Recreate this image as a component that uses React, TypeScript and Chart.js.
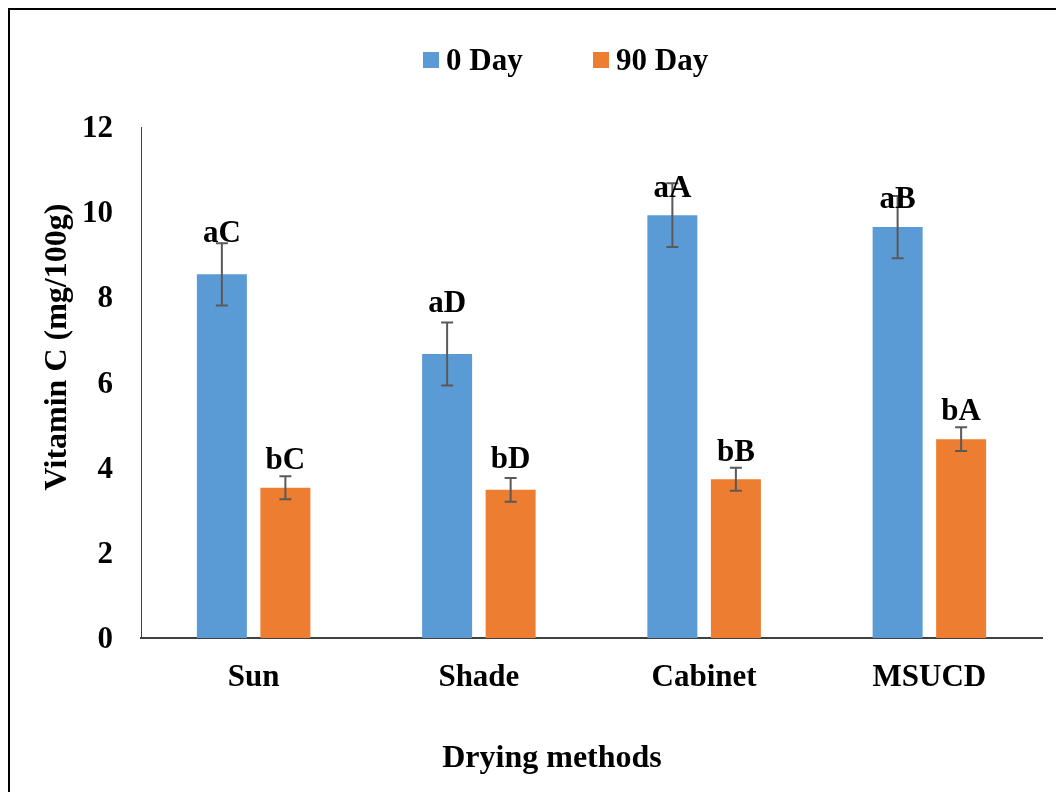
import React, { useEffect, useRef } from "react";
import { Chart, registerables } from "chart.js";

Chart.register(...registerables);

const categories = ["Sun", "Shade", "Cabinet", "MSUCD"];
const seriesNames = ["0 Day", "90 Day"];
const day0 = [8.54, 6.67, 9.93, 9.65];
const day90 = [3.53, 3.48, 3.73, 4.67];
const day0Err = [0.73, 0.74, 0.75, 0.73];
const day90Err = [0.27, 0.28, 0.27, 0.28];
const day0Letters = ["aC", "aD", "aA", "aB"];
const day90Letters = ["bC", "bD", "bB", "bA"];
const day0LabelAt = [9.31, 7.66, 10.36, 10.09];
const day90LabelAt = [3.97, 3.99, 4.16, 5.12];
const yTicks = [0, 2, 4, 6, 8, 10, 12];

const BLUE = "#5B9BD5";
const ORANGE = "#ED7D31";
const FONT = "'Liberation Serif', 'Times New Roman', serif";

const errs = [day0Err, day90Err];
const letters = [day0Letters, day90Letters];
const labelAt = [day0LabelAt, day90LabelAt];
const colors = [BLUE, ORANGE];

const extrasPlugin = {
  id: "extras",
  afterDatasetsDraw(chart: any) {
    const ctx = chart.ctx;
    const ys = chart.scales.y;
    ctx.save();
    for (let d = 0; d < 2; d++) {
      const meta = chart.getDatasetMeta(d);
      const vals = chart.data.datasets[d].data as number[];
      meta.data.forEach((bar: any, j: number) => {
        const x = bar.x;
        const top = ys.getPixelForValue(vals[j] + errs[d][j]);
        const bot = ys.getPixelForValue(vals[j] - errs[d][j]);
        ctx.strokeStyle = "#595959";
        ctx.lineWidth = 2;
        ctx.beginPath();
        ctx.moveTo(x, top);
        ctx.lineTo(x, bot);
        ctx.moveTo(x - 6, top);
        ctx.lineTo(x + 6, top);
        ctx.moveTo(x - 6, bot);
        ctx.lineTo(x + 6, bot);
        ctx.stroke();
      });
    }
    ctx.fillStyle = "#000";
    ctx.font = `bold 31px ${FONT}`;
    ctx.textAlign = "center";
    ctx.textBaseline = "alphabetic";
    for (let d = 0; d < 2; d++) {
      const meta = chart.getDatasetMeta(d);
      meta.data.forEach((bar: any, j: number) => {
        ctx.fillText(letters[d][j], bar.x, ys.getPixelForValue(labelAt[d][j]));
      });
    }
    ctx.restore();
  },
  afterDraw(chart: any) {
    const ctx = chart.ctx;
    ctx.save();
    ctx.fillStyle = "#000";
    // legend
    ctx.font = `bold 31px ${FONT}`;
    ctx.textAlign = "left";
    ctx.textBaseline = "alphabetic";
    const legendX = [413, 583];
    for (let d = 0; d < 2; d++) {
      ctx.fillStyle = colors[d];
      ctx.fillRect(legendX[d], 42, 16, 16);
      ctx.fillStyle = "#000";
      ctx.fillText(seriesNames[d], legendX[d] + 23, 60);
    }
    // x title
    ctx.font = `bold 32px ${FONT}`;
    ctx.textAlign = "center";
    ctx.fillText("Drying methods", 542, 757);
    // y title
    ctx.translate(48, 337);
    ctx.rotate(-Math.PI / 2);
    ctx.textBaseline = "middle";
    ctx.fillText("Vitamin C (mg/100g)", 0, 0);
    ctx.restore();
  },
};

export default function App() {
  const ref = useRef<HTMLCanvasElement>(null);
  useEffect(() => {
    if (!ref.current) return;
    const chart = new Chart(ref.current, {
      type: "bar",
      data: {
        labels: categories,
        datasets: [
          { label: seriesNames[0], data: day0, backgroundColor: BLUE, categoryPercentage: 0.564, barPercentage: 0.787 },
          { label: seriesNames[1], data: day90, backgroundColor: ORANGE, categoryPercentage: 0.564, barPercentage: 0.787 },
        ],
      },
      options: {
        responsive: false,
        animation: false,
        layout: { padding: { top: 117, right: 20, left: 0, bottom: 0 } },
        plugins: { legend: { display: false }, tooltip: { enabled: false }, title: { display: false } },
        scales: {
          x: {
            grid: { display: false, drawTicks: false },
            border: { display: true, color: "#404040", width: 2 },
            ticks: { color: "#000", font: { family: FONT, size: 31, weight: "bold" }, padding: 21 },
            afterFit: (s: any) => { s.height = 170; },
          },
          y: {
            min: 0,
            max: 12,
            grid: { display: false, drawTicks: false },
            border: { display: true, color: "#404040", width: 1 },
            afterBuildTicks: (s: any) => { s.ticks = yTicks.map((v) => ({ value: v })); },
            ticks: { color: "#000", font: { family: FONT, size: 31, weight: "bold" }, padding: 28, labelOffset: 2 },
            afterFit: (s: any) => { s.width = 131; },
          },
        },
      },
      plugins: [extrasPlugin],
    });
    return () => chart.destroy();
  }, []);
  return (
    <div
      style={{
        position: "relative",
        width: 1056,
        height: 800,
        boxSizing: "border-box",
        borderTop: "2px solid #000",
        borderLeft: "2px solid #000",
        borderRight: "2px solid #000",
      }}
    >
      <canvas ref={ref} width={1052} height={798} style={{ display: "block" }} />
    </div>
  );
}
